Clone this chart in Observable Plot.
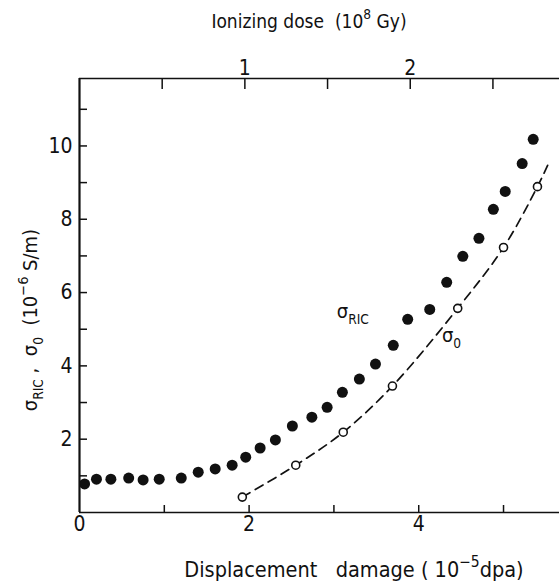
<!DOCTYPE html>
<html><head><meta charset="utf-8">
<script src="https://cdn.jsdelivr.net/npm/d3@7"></script>
<script src="https://cdn.jsdelivr.net/npm/@observablehq/plot@0.6"></script>
<style>
body{margin:0;background:#fff}
#chart svg{font-family:"Liberation Sans Narrow","DejaVu Sans Condensed",sans-serif;}
</style></head><body><div id="chart"></div>
<script>
// σ_RIC (filled circles): displacement damage (1e-5 dpa) and conductivity (1e-6 S/m)
const ricX = [0.06,0.20,0.37,0.58,0.75,0.94,1.20,1.40,1.60,1.80,1.96,2.13,2.31,2.51,2.74,2.92,3.10,3.30,3.49,3.70,3.87,4.13,4.33,4.52,4.71,4.88,5.02,5.22,5.35];
const ricY = [0.78,0.91,0.91,0.94,0.89,0.91,0.94,1.10,1.19,1.29,1.51,1.76,1.98,2.36,2.60,2.87,3.28,3.64,4.05,4.56,5.27,5.54,6.28,6.99,7.48,8.27,8.76,9.52,10.18];
// σ_0 (open circles)
const s0X = [1.92,2.55,3.11,3.69,4.46,5.00,5.40];
const s0Y = [0.42,1.29,2.19,3.45,5.57,7.23,8.89];
// dashed curve through σ_0, extended to its drawn end
const fitX = [1.92,2.55,3.11,3.69,4.46,5.00,5.40,5.52];
const fitY = [0.42,1.29,2.19,3.45,5.57,7.23,8.89,9.47];
// axes
const xDomain = [0, 5.66];
const yDomain = [0, 11.84];
const xMinorTicks = [1,2,3,4,5];
const xTickLabels = [0,2,4];
const yMinorTicks = [1,2,3,4,5,6,7,8,9,10,11];
const yTickLabels = [2,4,6,8,10];
const doseTicks = [0.5,1,1.5,2,2.5];
const doseTickLabels = [1,2];
const dpaPerDose = 1.95; // 1e-5 dpa per 1e8 Gy

const ric = ricX.map((x,i)=>({x, y:ricY[i]}));
const s0 = s0X.map((x,i)=>({x, y:s0Y[i]}));
const fit = fitX.map((x,i)=>({x, y:fitY[i]}));

const plot = Plot.plot({
  width: 559, height: 584,
  marginLeft: 79, marginRight: 0, marginTop: 78, marginBottom: 72,
  x: {domain: xDomain},
  y: {domain: yDomain},
  style: {fontSize: "21px", color: "#111", background: "#fff", overflow: "visible"},
  marks: [
    Plot.ruleX([xDomain[0]], {stroke: "#111", strokeWidth: 2.2}),
    Plot.ruleY([yDomain[0], yDomain[1]], {stroke: "#111", strokeWidth: 1.5}),
    Plot.axisX(xMinorTicks, {anchor: "bottom", tickSize: -7, tickFormat: () => "", label: null, strokeWidth: 1.5}),
    Plot.axisX(xTickLabels, {anchor: "bottom", tickSize: 0, tickPadding: 4, label: null}),
    Plot.axisX(doseTicks.map(d => d*dpaPerDose), {anchor: "top", tickSize: -10, tickFormat: () => "", label: null, strokeWidth: 1.5}),
    Plot.axisX(doseTickLabels.map(d => d*dpaPerDose), {anchor: "top", tickSize: 0, tickPadding: 4, tickFormat: d => String(Math.round(d/dpaPerDose)), label: null}),
    Plot.axisY(yMinorTicks, {anchor: "left", tickSize: -8, tickFormat: () => "", label: null, strokeWidth: 1.5}),
    Plot.axisY(yTickLabels, {anchor: "left", tickSize: 0, tickPadding: 7, label: null}),
    Plot.line(fit, {x: "x", y: "y", curve: "catmull-rom", stroke: "#111", strokeWidth: 1.7, strokeDasharray: "9,6"}),
    Plot.dot(ric, {x: "x", y: "y", r: 5.5, fill: "#111", stroke: "none"}),
    Plot.dot(s0, {x: "x", y: "y", r: 4, fill: "#fff", stroke: "#111", strokeWidth: 1.6})
  ]
});
document.getElementById("chart").appendChild(plot);

const svg = d3.select(plot);
const sx = plot.scale("x"), sy = plot.scale("y");
function rich(g, parts, size, anchor) {
  const t = g.append("text").attr("fill", "#111").attr("text-anchor", anchor)
    .style("font-size", size + "px").attr("xml:space", "preserve").style("white-space", "pre");
  parts.forEach(p => {
    const ts = t.append("tspan").text(p.t);
    if (p.sup) ts.attr("dy", -0.45*size).style("font-size", (size*0.72)+"px");
    if (p.sub) ts.attr("dy", 0.3*size).style("font-size", (size*0.68)+"px");
    if (p.back) ts.attr("dy", p.back);
  });
  return t;
}
// top title
rich(svg.append("g"), [
  {t: "Ionizing dose  (10"}, {t: "8", sup: true}, {t: " Gy)", back: 0.45*19}
], 19, "middle").attr("x", 309).attr("y", 28);
// bottom title
rich(svg.append("g"), [
  {t: "Displacement   damage ( 10"}, {t: "−5", sup: true}, {t: "dpa)", back: 0.45*21.5}
], 21.5, "middle").attr("x", 354).attr("y", 577);
// y title
rich(svg.append("g").attr("transform", "translate(37,320) rotate(-90)"), [
  {t: "σ"}, {t: "RIC", sub: true}, {t: " ,  σ", back: -0.3*20}, {t: "0", sub: true}, {t: "  (10", back: -0.3*20}, {t: "−6", sup: true}, {t: " S/m)", back: 0.45*20}
], 20, "middle").attr("x", 0).attr("y", 0);
// series labels
rich(svg.append("g"), [{t: "σ"}, {t: "RIC", sub: true}], 20, "start")
  .attr("x", sx.apply(3.04)).attr("y", sy.apply(5.3));
rich(svg.append("g"), [{t: "σ"}, {t: "0", sub: true}], 20, "start")
  .attr("x", sx.apply(4.28)).attr("y", sy.apply(4.65));
</script></body></html>
